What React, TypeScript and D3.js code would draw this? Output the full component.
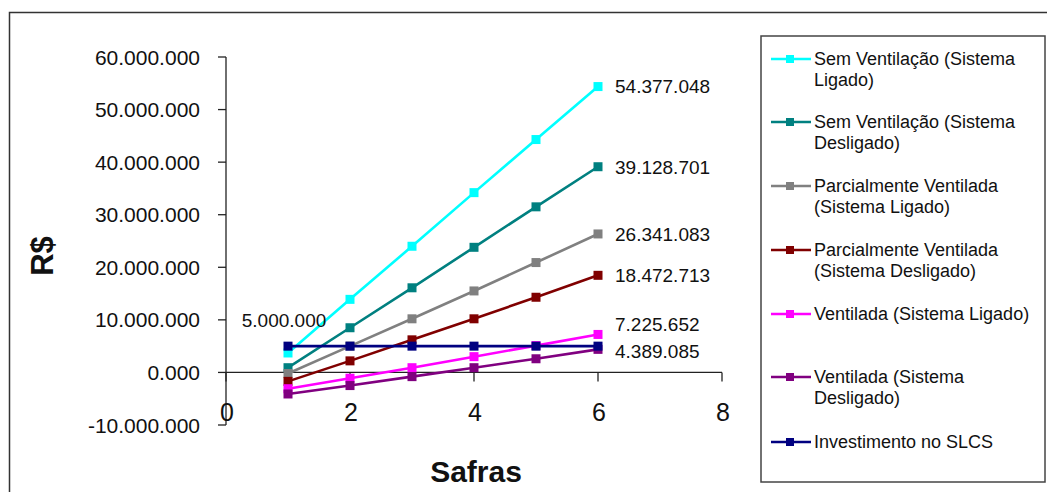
import React from "react";
import * as d3 from "d3";

// Harvests (safras) on the x axis
const safras = [1, 2, 3, 4, 5, 6];

// Accumulated result per scenario, R$
const semVentLigado = [3700000, 13900000, 24000000, 34200000, 44300000, 54377048];
const semVentDesligado = [900000, 8500000, 16100000, 23800000, 31500000, 39128701];
const parcialLigado = [-200000, 5000000, 10200000, 15500000, 20900000, 26341083];
const parcialDesligado = [-1700000, 2200000, 6200000, 10200000, 14300000, 18472713];
const ventLigado = [-3100000, -1100000, 900000, 3000000, 5100000, 7225652];
const ventDesligado = [-4100000, -2500000, -800000, 900000, 2600000, 4389085];
const investimento = [5000000, 5000000, 5000000, 5000000, 5000000, 5000000];

const yTickValues = [-10000000, 0, 10000000, 20000000, 30000000, 40000000, 50000000, 60000000];
const yTickLabels = ["-10.000.000", "0.000", "10.000.000", "20.000.000", "30.000.000", "40.000.000", "50.000.000", "60.000.000"];
const xTickValues = [0, 2, 4, 6, 8];

type Series = {
  name: string[];
  values: number[];
  color: string;
  labelAt: number; // index of the point carrying the value label
  labelDx: number;
  labelDy: number;
  anchor: "start" | "middle";
};

const series: Series[] = [
  { name: ["Sem Ventilação (Sistema", "Ligado)"], values: semVentLigado, color: "#00FFFF", labelAt: 5, labelDx: 17, labelDy: 0, anchor: "start" },
  { name: ["Sem Ventilação (Sistema", "Desligado)"], values: semVentDesligado, color: "#008080", labelAt: 5, labelDx: 17, labelDy: 1, anchor: "start" },
  { name: ["Parcialmente Ventilada", "(Sistema Ligado)"], values: parcialLigado, color: "#808080", labelAt: 5, labelDx: 17, labelDy: 1, anchor: "start" },
  { name: ["Parcialmente Ventilada", "(Sistema Desligado)"], values: parcialDesligado, color: "#800000", labelAt: 5, labelDx: 17, labelDy: 0, anchor: "start" },
  { name: ["Ventilada (Sistema Ligado)"], values: ventLigado, color: "#FF00FF", labelAt: 5, labelDx: 17, labelDy: -10, anchor: "start" },
  { name: ["Ventilada (Sistema", "Desligado)"], values: ventDesligado, color: "#800080", labelAt: 5, labelDx: 17, labelDy: 2, anchor: "start" },
  { name: ["Investimento no SLCS"], values: investimento, color: "#000080", labelAt: 0, labelDx: -4, labelDy: -26, anchor: "middle" },
];

const legendRows = [59, 122, 186, 250, 314, 377, 442];

const fmt = d3.formatLocale({ decimal: ",", thousands: ".", grouping: [3], currency: ["R$", ""] }).format(",d");

const FONT = "'Liberation Sans', Arial, sans-serif";

export default function App() {
  const x = d3.scaleLinear().domain([0, 8]).range([226, 722]);
  const y = d3.scaleLinear().domain([-10000000, 60000000]).range([425, 57]);
  const line = d3
    .line<number>()
    .x((_, i) => x(safras[i]))
    .y((d) => y(d));

  const y0 = y(0);

  return (
    <svg
      width={1047}
      height={492}
      style={{ position: "absolute", left: 0, top: 0, background: "#fff" }}
      fontFamily={FONT}
    >
      <rect x={0} y={0} width={1047} height={492} fill="#fff" />
      {/* outer chart frame */}
      <rect x={9.5} y={12.5} width={1100} height={600} fill="none" stroke="#333" strokeWidth={1.5} />

      {/* y axis */}
      <line x1={x(0)} x2={x(0)} y1={y(60000000)} y2={y(-10000000)} stroke="#222" strokeWidth={1.3} />
      {yTickValues.map((v, i) => (
        <g key={"yt" + i}>
          <line x1={x(0) - 8} x2={x(0)} y1={y(v)} y2={y(v)} stroke="#222" strokeWidth={1.3} />
          <text x={200} y={y(v)} textAnchor="end" dominantBaseline="central" fontSize={21} fill="#111">
            {yTickLabels[i]}
          </text>
        </g>
      ))}

      {/* x axis at zero */}
      <line x1={x(0)} x2={x(8)} y1={y0} y2={y0} stroke="#222" strokeWidth={1.3} />
      {xTickValues.map((v) => (
        <g key={"xt" + v}>
          <line x1={x(v)} x2={x(v)} y1={y0} y2={y0 + 9} stroke="#222" strokeWidth={1.3} />
          <text x={x(v) + 1} y={y0 + 40} textAnchor="middle" dominantBaseline="central" fontSize={25} fill="#111">
            {v}
          </text>
        </g>
      ))}

      <text x={476} y={482} textAnchor="middle" fontSize={30} fontWeight="bold" fill="#111">
        Safras
      </text>
      <text transform="translate(53,256) rotate(-90)" textAnchor="middle" fontSize={31} fontWeight="bold" fill="#111">
        R$
      </text>

      {/* series lines */}
      {series.map((s, si) => (
        <g key={"s" + si}>
          <path d={line(s.values) ?? ""} fill="none" stroke={s.color} strokeWidth={2.6} />
          {s.values.map((v, i) => (
            <rect
              key={i}
              x={x(safras[i]) - 4.5}
              y={y(v) - 4.5}
              width={9}
              height={9}
              fill={s.color}
            />
          ))}
        </g>
      ))}

      {/* value labels */}
      {series.map((s, si) => (
        <text
          key={"l" + si}
          x={x(safras[s.labelAt]) + s.labelDx}
          y={y(s.values[s.labelAt]) + s.labelDy}
          textAnchor={s.anchor}
          dominantBaseline="central"
          fontSize={19}
          fill="#111"
        >
          {fmt(s.values[s.labelAt])}
        </text>
      ))}

      {/* legend */}
      <rect x={761} y={36} width={284} height={446} fill="#fff" stroke="#444" strokeWidth={1.5} />
      {series.map((s, si) => (
        <g key={"lg" + si}>
          <line x1={771} x2={811} y1={legendRows[si]} y2={legendRows[si]} stroke={s.color} strokeWidth={2.6} />
          <rect x={786} y={legendRows[si] - 4} width={8} height={8} fill={s.color} />
          {s.name.map((t, ti) => (
            <text key={ti} x={814} y={legendRows[si] + ti * 21} dominantBaseline="central" fontSize={18} fill="#111">
              {t}
            </text>
          ))}
        </g>
      ))}
    </svg>
  );
}
